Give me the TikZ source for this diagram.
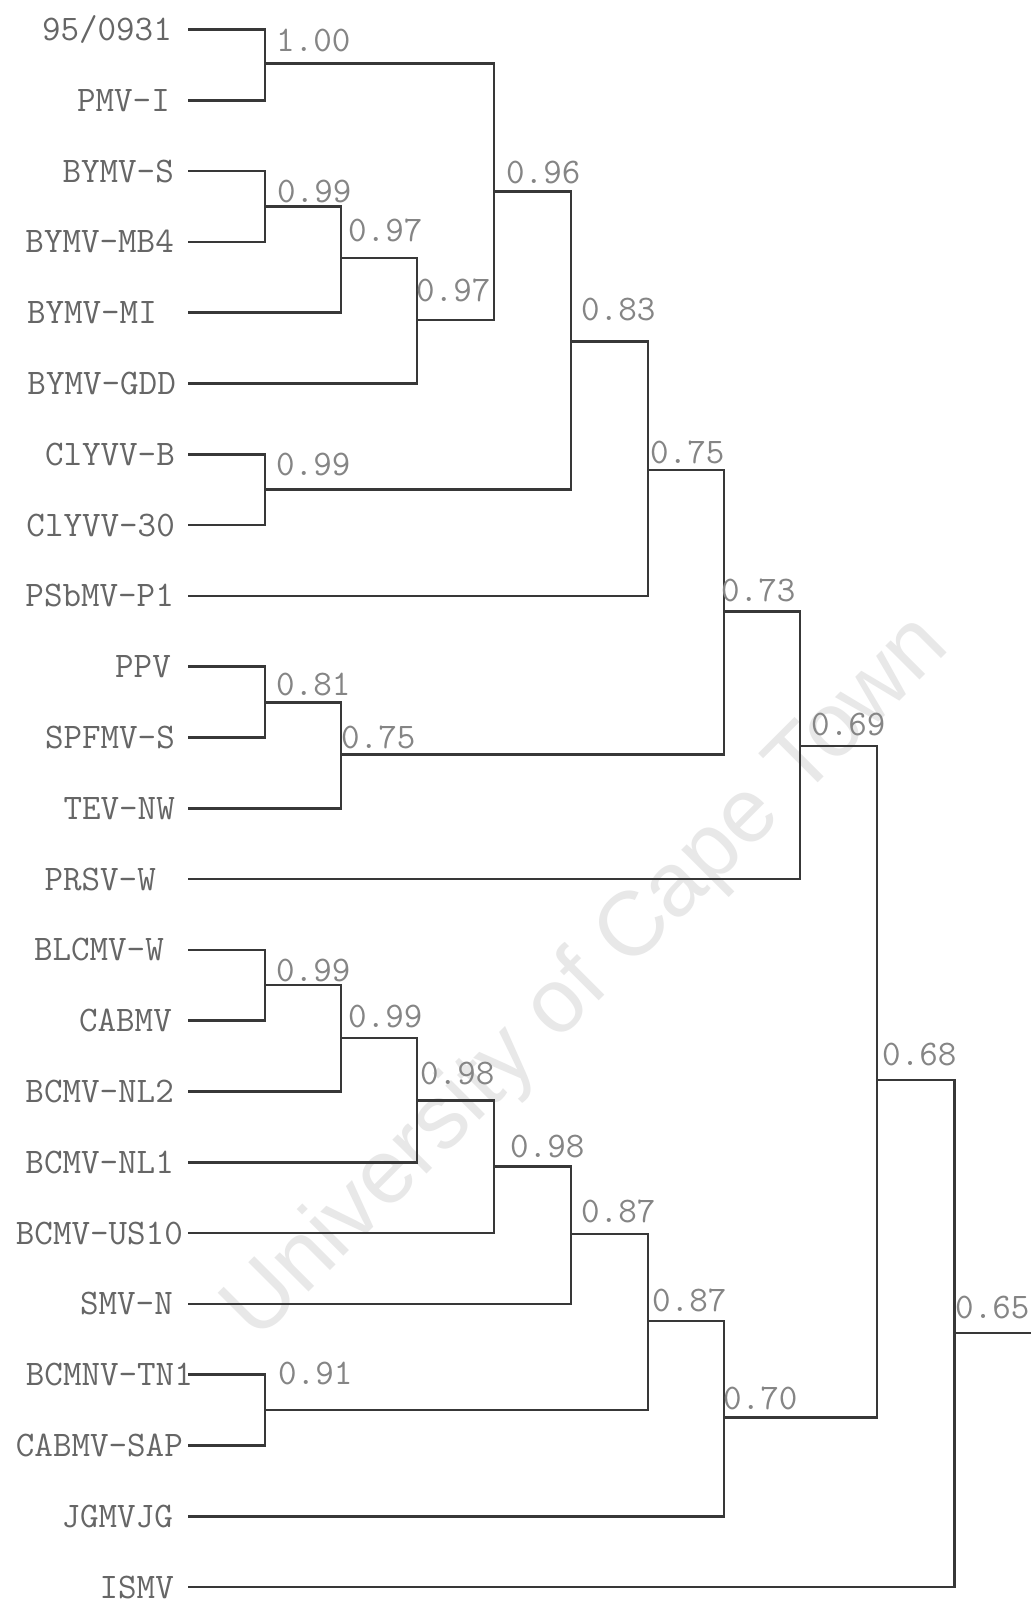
\documentclass[tikz,border=0pt]{standalone}
\usepackage{fontspec}
\newfontfamily\wmfont{Liberation Sans}
\begin{document}
\begin{tikzpicture}[x=1pt,y=-1pt,
  branch/.style={line width=2.7pt, draw=black!78},
  leaf/.style={font=\fontsize{36}{40}\selectfont\ttfamily, text=black!60, inner sep=0pt, anchor=base east},
  support/.style={font=\fontsize{36}{40}\selectfont\ttfamily, text=black!48, inner sep=0pt, anchor=base west},
  watermark/.style={font=\wmfont\fontsize{91}{100}\selectfont, text=black!9, rotate=45}]
\useasboundingbox (0,0) rectangle (1035,1603);
\fill[white] (0,0) rectangle (1035,1603);
\node[watermark] (wm) at (588,979) {University of Cape Town};

% leaf labels
\node[leaf] (n0)  at (172,40.5)   {95/0931};
\node[leaf] (n1)  at (170,111.3)  {PMV-I};
\node[leaf] (n2)  at (174,182.1)  {BYMV-S};
\node[leaf] (n3)  at (174,252.9)  {BYMV-MB4};
\node[leaf] (n4)  at (157,323.7)  {BYMV-MI};
\node[leaf] (n5)  at (176,394.5)  {BYMV-GDD};
\node[leaf] (n6)  at (175,465.3)  {ClYVV-B};
\node[leaf] (n7)  at (175,536.1)  {ClYVV-30};
\node[leaf] (n8)  at (174,606.9)  {PSbMV-P1};
\node[leaf] (n9)  at (171,677.7)  {PPV};
\node[leaf] (n10) at (175,748.5)  {SPFMV-S};
\node[leaf] (n11) at (175,819.3)  {TEV-NW};
\node[leaf] (n12) at (156,890.1)  {PRSV-W};
\node[leaf] (n13) at (164,960.9)  {BLCMV-W};
\node[leaf] (n14) at (172,1031.7) {CABMV};
\node[leaf] (n15) at (174,1102.5) {BCMV-NL2};
\node[leaf] (n16) at (174,1173.3) {BCMV-NL1};
\node[leaf] (n17) at (183,1244.1) {BCMV-US10};
\node[leaf] (n18) at (173,1314.9) {SMV-N};
\node[leaf] (n19) at (193,1385.7) {BCMNV-TN1};
\node[leaf] (n20) at (183,1456.5) {CABMV-SAP};
\node[leaf] (n21) at (173,1527.3) {JGMVJG};
\node[leaf] (n22) at (174,1598.1) {ISMV};

% leaf line starts
\coordinate (l0)  at (188,29.5);
\coordinate (l1)  at (188,100.3);
\coordinate (l2)  at (188,171.1);
\coordinate (l3)  at (188,241.9);
\coordinate (l4)  at (188,312.7);
\coordinate (l5)  at (188,383.5);
\coordinate (l6)  at (188,454.3);
\coordinate (l7)  at (188,525.1);
\coordinate (l8)  at (188,595.9);
\coordinate (l9)  at (188,666.7);
\coordinate (l10) at (188,737.5);
\coordinate (l11) at (188,808.3);
\coordinate (l12) at (188,879.1);
\coordinate (l13) at (188,949.9);
\coordinate (l14) at (188,1020.7);
\coordinate (l15) at (188,1091.5);
\coordinate (l16) at (188,1162.3);
\coordinate (l17) at (188,1233.1);
\coordinate (l18) at (188,1303.9);
\coordinate (l19) at (188,1374.7);
\coordinate (l20) at (188,1445.5);
\coordinate (l21) at (188,1516.3);
\coordinate (l22) at (188,1587.1);

% internal nodes
\coordinate (A) at (265,63.5);
\coordinate (B) at (265,206.7);
\coordinate (C) at (341,258);
\coordinate (D) at (417,320);
\coordinate (E) at (494,191.7);
\coordinate (F) at (265,489.5);
\coordinate (G) at (571,341.5);
\coordinate (H) at (648,470);
\coordinate (I) at (265,702.5);
\coordinate (J) at (341,754.5);
\coordinate (K) at (724,611.5);
\coordinate (L) at (800,746);
\coordinate (M) at (265,985);
\coordinate (N) at (341,1038);
\coordinate (O) at (417,1100.4);
\coordinate (P) at (494,1166.5);
\coordinate (Q) at (571,1234);
\coordinate (R) at (265,1410);
\coordinate (S) at (648,1321);
\coordinate (T) at (724,1417.5);
\coordinate (U) at (877,1080);
\coordinate (V) at (954.5,1333);
\coordinate (root) at (1031,1333);

% branches
\draw[branch] (l0) -| (A);  \draw[branch] (l1) -| (A);
\draw[branch] (l2) -| (B);  \draw[branch] (l3) -| (B);
\draw[branch] (B) -| (C);   \draw[branch] (l4) -| (C);
\draw[branch] (C) -| (D);   \draw[branch] (l5) -| (D);
\draw[branch] (A) -| (E);   \draw[branch] (D) -| (E);
\draw[branch] (l6) -| (F);  \draw[branch] (l7) -| (F);
\draw[branch] (E) -| (G);   \draw[branch] (F) -| (G);
\draw[branch] (G) -| (H);   \draw[branch] (l8) -| (H);
\draw[branch] (l9) -| (I);  \draw[branch] (l10) -| (I);
\draw[branch] (I) -| (J);   \draw[branch] (l11) -| (J);
\draw[branch] (H) -| (K);   \draw[branch] (J) -| (K);
\draw[branch] (K) -| (L);   \draw[branch] (l12) -| (L);
\draw[branch] (l13) -| (M); \draw[branch] (l14) -| (M);
\draw[branch] (M) -| (N);   \draw[branch] (l15) -| (N);
\draw[branch] (N) -| (O);   \draw[branch] (l16) -| (O);
\draw[branch] (O) -| (P);   \draw[branch] (l17) -| (P);
\draw[branch] (P) -| (Q);   \draw[branch] (l18) -| (Q);
\draw[branch] (l19) -| (R); \draw[branch] (l20) -| (R);
\draw[branch] (Q) -| (S);   \draw[branch] (R) -| (S);
\draw[branch] (S) -| (T);   \draw[branch] (l21) -| (T);
\draw[branch] (L) -| (U);   \draw[branch] (T) -| (U);
\draw[branch] (U) -| (V);   \draw[branch] (l22) -| (V);
\draw[branch] (V) -- (root);

% support values
\node[support] (sA) at (276,52)     {1.00};
\node[support] (sB) at (277,202)    {0.99};
\node[support] (sC) at (348,241.7)  {0.97};
\node[support] (sD) at (416,301.7)  {0.97};
\node[support] (sE) at (506,183.3)  {0.96};
\node[support] (sF) at (276,475)    {0.99};
\node[support] (sG) at (581,320)    {0.83};
\node[support] (sH) at (650,463)    {0.75};
\node[support] (sI) at (276,695)    {0.81};
\node[support] (sJ) at (341,748)    {0.75};
\node[support] (sK) at (721,601.7)  {0.73};
\node[support] (sL) at (811,735)    {0.69};
\node[support] (sM) at (276,981)    {0.99};
\node[support] (sN) at (348,1027)   {0.99};
\node[support] (sO) at (420,1084.7) {0.98};
\node[support] (sP) at (510,1157)   {0.98};
\node[support] (sQ) at (581,1222)   {0.87};
\node[support] (sR) at (278,1384)   {0.91};
\node[support] (sS) at (652,1311.5) {0.87};
\node[support] (sT) at (723,1409.6) {0.70};
\node[support] (sU) at (882,1065)   {0.68};
\node[support] (sV) at (955,1318.5) {0.65};
\end{tikzpicture}
\end{document}
